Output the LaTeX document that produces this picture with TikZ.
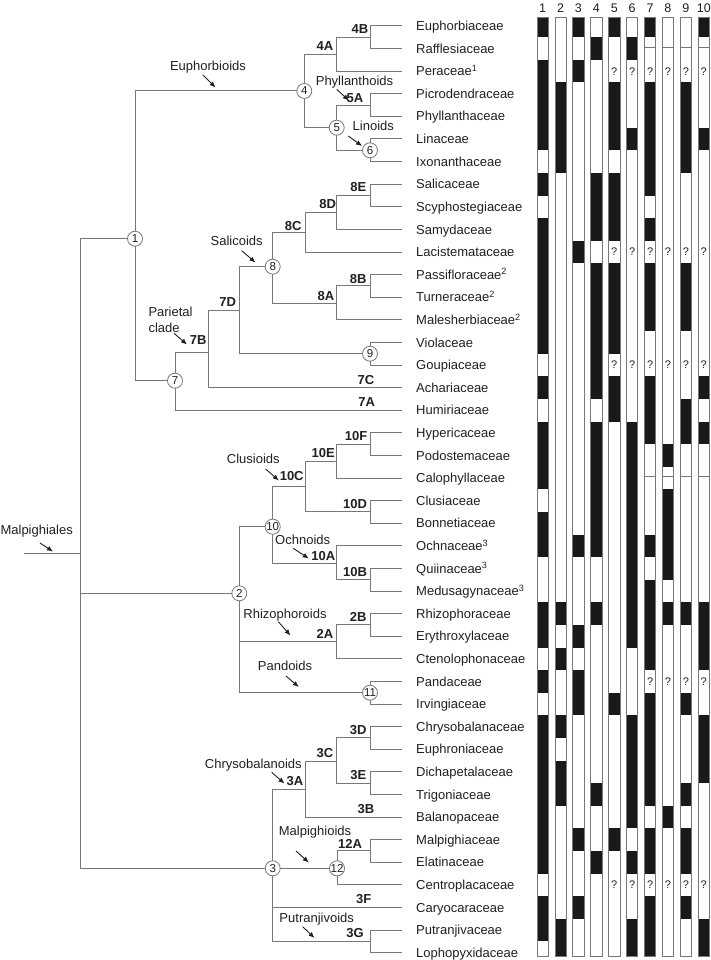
\documentclass[tikz,border=0pt]{standalone}
\usepackage{fontspec}
\setmainfont{Liberation Sans}
\usetikzlibrary{arrows.meta}
\definecolor{treegray}{RGB}{120,120,120}
\definecolor{ink}{RGB}{35,31,32}
\definecolor{barblack}{RGB}{26,24,24}
\begin{document}
\begin{tikzpicture}[x=1pt,y=-1pt,
  branch/.style={draw=treegray,line width=1pt},
  circnode/.style={circle,draw=treegray,fill=white,line width=0.8pt,minimum size=15pt,inner sep=0pt,font=\fontsize{11.5}{11.5}\selectfont,text=ink},
  leaflab/.style={anchor=base west,inner sep=0pt,font=\fontsize{13}{15}\selectfont,text=ink},
  cladelab/.style={anchor=base,inner sep=0pt,font=\fontsize{13}{15}\selectfont,text=ink},
  nodelab/.style={anchor=base,inner sep=0pt,font=\bfseries\fontsize{13}{15}\selectfont,text=ink},
  clarrow/.style={-{Latex[length=6pt,width=5pt]},line width=0.9pt,draw=ink},
  barframe/.style={draw=treegray,line width=0.8pt},
  qmark/.style={inner sep=0pt,font=\fontsize{11}{11}\selectfont,text=ink},
  headlab/.style={inner sep=0pt,font=\fontsize{12.5}{13}\selectfont,text=ink}]
\useasboundingbox (0,0) rectangle (711,960);
\fill[white] (0,0) rectangle (711,960);

% ---------- leaves ----------
\foreach \k/\nm in {1/Euphorbiaceae,2/Rafflesiaceae,3/{Peraceae\textsuperscript{1}},4/Picrodendraceae,5/Phyllanthaceae,6/Linaceae,7/Ixonanthaceae,8/Salicaceae,9/Scyphostegiaceae,10/Samydaceae,11/Lacistemataceae,12/{Passifloraceae\textsuperscript{2}},13/{Turneraceae\textsuperscript{2}},14/{Malesherbiaceae\textsuperscript{2}},15/Violaceae,16/Goupiaceae,17/Achariaceae,18/Humiriaceae,19/Hypericaceae,20/Podostemaceae,21/Calophyllaceae,22/Clusiaceae,23/Bonnetiaceae,24/{Ochnaceae\textsuperscript{3}},25/{Quiinaceae\textsuperscript{3}},26/{Medusagynaceae\textsuperscript{3}},27/Rhizophoraceae,28/Erythroxylaceae,29/Ctenolophonaceae,30/Pandaceae,31/Irvingiaceae,32/Chrysobalanaceae,33/Euphroniaceae,34/Dichapetalaceae,35/Trigoniaceae,36/Balanopaceae,37/Malpighiaceae,38/Elatinaceae,39/Centroplacaceae,40/Caryocaraceae,41/Putranjivaceae,42/Lophopyxidaceae}{
  \coordinate (L\k) at (401.7,3.4+22.6*\k);
  \node[leaflab] (t\k) at (416,8+22.6*\k) {\nm};
}

% ---------- internal points ----------
\coordinate (stem) at (24,553.3);
\coordinate (root) at (80,553.3);
\coordinate (n1) at (135,238.7);
\coordinate (n2) at (239.3,593.3);
\coordinate (n3) at (272.7,868.3);
\coordinate (n4) at (304.3,91);
\coordinate (n4A) at (336.7,54.3);
\coordinate (n4B) at (370,37.3);
\coordinate (n5) at (336.7,127.7);
\coordinate (n5A) at (370,105.1);
\coordinate (n6) at (370,150.3);
\coordinate (n7) at (175,380.7);
\coordinate (n7B) at (208.3,352.3);
\coordinate (n7D) at (239.3,310);
\coordinate (n8) at (272.7,266.7);
\coordinate (n8C) at (305,232.3);
\coordinate (n8D) at (336.7,212.3);
\coordinate (n8E) at (370,195.5);
\coordinate (n8A) at (336.7,303.3);
\coordinate (n8B) at (370,285.9);
\coordinate (n9) at (370,353.7);
\coordinate (n10) at (272.7,526.7);
\coordinate (n10C) at (305,486);
\coordinate (n10E) at (336.7,461);
\coordinate (n10F) at (370,444.1);
\coordinate (n10D) at (370,511.9);
\coordinate (n10A) at (336.7,563.3);
\coordinate (n10B) at (370,579.7);
\coordinate (n2A) at (336.7,641.7);
\coordinate (n2B) at (370,624.9);
\coordinate (n11) at (370,692.7);
\coordinate (n3A) at (305,789.3);
\coordinate (n3C) at (336.7,761);
\coordinate (n3D) at (370,737.9);
\coordinate (n3E) at (370,783.1);
\coordinate (n12) at (337,868.3);
\coordinate (n12A) at (370,850.9);
\coordinate (n3G) at (370,941.3);

% ---------- branches ----------
\draw[branch] (stem) -- (root);
\foreach \p/\c in {root/n1,root/n2,root/n3,
  n1/n4,n1/n7,n4/n4A,n4/n5,n4A/n4B,n4A/L3,n4B/L1,n4B/L2,
  n5/n5A,n5/n6,n5A/L4,n5A/L5,n6/L6,n6/L7,
  n7/n7B,n7/L18,n7B/n7D,n7B/L17,n7D/n8,n7D/n9,
  n8/n8C,n8/n8A,n8C/n8D,n8C/L11,n8D/n8E,n8D/L10,n8E/L8,n8E/L9,
  n8A/n8B,n8A/L14,n8B/L12,n8B/L13,n9/L15,n9/L16,
  n2/n10,n2/n2A,n2/n11,n10/n10C,n10/n10A,n10C/n10E,n10C/n10D,
  n10E/n10F,n10E/L21,n10F/L19,n10F/L20,n10D/L22,n10D/L23,
  n10A/L24,n10A/n10B,n10B/L25,n10B/L26,
  n2A/n2B,n2A/L29,n2B/L27,n2B/L28,n11/L30,n11/L31,
  n3/n3A,n3/n12,n3/L40,n3/n3G,n3A/n3C,n3A/L36,n3C/n3D,n3C/n3E,
  n3D/L32,n3D/L33,n3E/L34,n3E/L35,n12/n12A,n12/L39,n12A/L37,n12A/L38,
  n3G/L41,n3G/L42}{
  \draw[branch] (\p) |- (\c);
}

% ---------- numbered circles ----------
\foreach \i in {1,...,12}{
  \node[circnode] (c\i) at (n\i) {\i};
}

% ---------- node labels ----------
\foreach \t/\x/\y in {4B/360/29.3,4A/325/46,5A/355/98.3,8E/358.3/187.3,8D/327.7/204,
  8C/293.3/225.7,8B/358.3/278.3,8A/326/295.7,7D/227.7/301.7,7B/198.3/340,
  7C/366/379.3,7A/366.7/401.7,10F/356/435.5,10E/323.3/452.3,10C/291.7/476,
  10D/355/503.5,10A/323.3/555.7,10B/355/571.3,2B/358.3/616.5,2A/325/633.3,
  3D/358.3/729.5,3C/325/752.5,3A/295/780.7,3E/358.3/775,3B/366/808.5,
  12A/350/843.6,3F/363.7/899.1,3G/355/933}{
  \node[nodelab] (lab\t) at (\x,\y+4.7) {\t};
}

% ---------- clade labels ----------
\node[cladelab] (cMal) at (36.7,534.6) {Malpighiales};
\node[cladelab] (cEup) at (208,70.3) {Euphorbioids};
\node[cladelab] (cPhy) at (354.5,85.6) {Phyllanthoids};
\node[cladelab] (cLin) at (373.3,130.6) {Linoids};
\node[cladelab] (cSal) at (236.7,245.3) {Salicoids};
\node[anchor=north west,inner sep=0pt,align=left,font=\fontsize{13}{16}\selectfont,text=ink] (cPar) at (148.3,307) {Parietal\\clade};
\node[cladelab] (cClu) at (253.3,463.9) {Clusioids};
\node[cladelab] (cOch) at (302.7,544.6) {Ochnoids};
\node[cladelab] (cRhi) at (285,618.9) {Rhizophoroids};
\node[cladelab] (cPan) at (285,670.6) {Pandoids};
\node[cladelab] (cChr) at (253.3,768.6) {Chrysobalanoids};
\node[cladelab] (cMlp) at (315,835.3) {Malpighioids};
\node[cladelab] (cPut) at (316.7,922.3) {Putranjivoids};

% ---------- arrows ----------
\foreach \n/\xa/\ya/\xb/\yb in {Mal/40/543/53/551.5,Eup/203/75/215.5/87.5,Phy/336.7/89.3/348.8/100.5,
  Lin/348.3/136/362/146,Sal/241.7/250.7/255.5/262.5,Par/174/333.3/187/344.5,
  Clu/265.7/469/278.8/480.5,Och/293.3/548.3/308.8/558.5,Rhi/278.3/621.7/290.5/635.5,
  Pan/286/676/298.8/687,Chr/271.7/772.3/284.5/783.5,Mlp/296/851/308.8/862.5,
  Put/302.7/926.7/314.5/938}{
  \coordinate (a\n s) at (\xa,\ya);
  \coordinate (a\n e) at (\xb,\yb);
  \draw[clarrow] (a\n s) -- (a\n e);
}

% ---------- character bars ----------
\foreach \c/\bl in {
  1/{1,3,4,5,6,8,10,11,12,13,14,15,17,19,20,21,23,24,27,28,30,32,33,34,35,36,37,38,40,41},
  2/{4,5,6,7,27,29,32,34,35,41,42},
  3/{1,3,11,24,28,30,31,37,40},
  4/{2,8,9,10,12,13,14,15,16,17,19,20,21,22,23,24,27,35,38},
  5/{1,4,5,6,8,9,10,12,13,14,15,17,18,31,37},
  6/{2,6,19,20,21,22,23,24,25,26,27,28,32,33,34,35,36,38,41,42},
  7/{1,4,5,6,7,8,10,12,13,14,17,18,19,24,26,27,28,29,31,32,33,34,35,37,38,40,41,42},
  8/{20,22,23,24,25,27,36},
  9/{4,5,6,7,12,13,14,18,19,27,31,35,37,38,40},
  10/{1,6,17,19,27,28,29,32,33,34,41,42}}{
  \pgfmathsetmacro\xl{537+17.9*(\c-1)}
  \pgfmathsetmacro\xr{\xl+11.3}
  \pgfmathsetmacro\xm{\xl+5.65}
  \fill[white] (\xl,17.5) rectangle (\xr,956);
  \foreach \k in \bl {
    \pgfmathsetmacro\ya{max(17.5,14.7+22.6*(\k-1))}
    \pgfmathsetmacro\yb{min(956,37.3+22.6*(\k-1))}
    \fill[barblack] (\xl,\ya) rectangle (\xr,\yb);
  }
  \draw[barframe] (\xl,17.5) rectangle (\xr,956);
  \node[headlab] (h\c) at (\xm,8.3) {\c};
}
% question marks
\foreach \c in {5,6}{
  \pgfmathsetmacro\xm{537+17.9*(\c-1)+5.65}
  \foreach \k in {3,11,16,39}{
    \node[qmark] (q\c-\k) at (\xm,3.4+22.6*\k) {?};
  }
}
\foreach \c in {7,8,9,10}{
  \pgfmathsetmacro\xl{537+17.9*(\c-1)}
  \pgfmathsetmacro\xr{\xl+11.3}
  \pgfmathsetmacro\xm{\xl+5.65}
  \foreach \k in {3,11,16,30,39}{
    \node[qmark] (q\c-\k) at (\xm,3.4+22.6*\k) {?};
  }
  \draw[treegray,line width=0.6pt] (\xl,47.3) -- (\xr,47.3);
  \draw[treegray,line width=0.6pt] (\xl,476) -- (\xr,476);
}
\end{tikzpicture}
\end{document}
